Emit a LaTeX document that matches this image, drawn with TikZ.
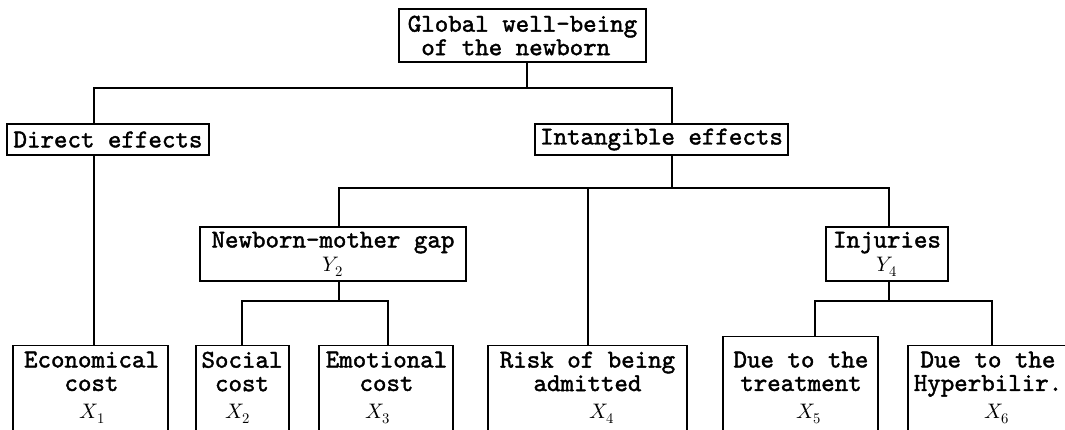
\documentclass[tikz,border=0pt]{standalone}
\usepackage{fontspec}
\usepackage{unicode-math}
\newfontfamily\cour{lmmono10-regular.otf}[FakeBold=1.6]
\newcommand\mathsz{\fontsize{21}{22}\selectfont}
\newcommand\boxfont{\cour\fontsize{25.7}{23.5}\selectfont}
\tikzset{
  box/.style={draw, line width=1.3pt, rectangle, inner sep=0pt, line join=miter, font=\boxfont},
  lbl/.style={inner sep=0pt, anchor=north, align=center, font=\boxfont},
  var/.style={inner sep=0pt, anchor=base, font=\mathsz},
  link/.style={line width=1.8pt, line join=miter}
}
\begin{document}
\begin{tikzpicture}[x=1pt,y=-1pt]
\useasboundingbox (0,0) rectangle (1065,429);
\clip (0,0) rectangle (1065,429);
% level 0 and 1
\node[box, minimum width=247pt, minimum height=53pt, align=left] (top) at (522.5,35.5) {Global well-being\\\hphantom{x}of the newborn};
\node[box, minimum width=202pt, minimum height=31pt] (direct) at (108,139.5) {Direct effects};
\node[box, minimum width=253pt, minimum height=31pt] (intang) at (661.5,139.5) {Intangible effects};
% level 2
\node[box, minimum width=266pt, minimum height=54pt, align=center] (gap) at (333,254) {Newborn-mother gap\\[0pt]{\mathsz$Y_2$}};
\node[box, minimum width=122pt, minimum height=54pt, align=center] (inj) at (887,254) {Injuries\\[0pt]{\mathsz$Y_4$}};
% bottom boxes (run past the lower edge)
\node[box, anchor=north, minimum width=155pt, minimum height=120pt] (econ) at (90.5,345) {};
\node[box, anchor=north, minimum width=93pt, minimum height=120pt] (social) at (242.5,345) {};
\node[box, anchor=north, minimum width=134pt, minimum height=120pt] (emo) at (386,345) {};
\node[box, anchor=north, minimum width=199pt, minimum height=120pt] (risk) at (587.5,345) {};
\node[box, anchor=north, minimum width=155pt, minimum height=120pt] (treat) at (800.5,336) {};
\node[box, anchor=north, minimum width=168pt, minimum height=120pt] (hyper) at (992,345) {};
% texts of the bottom boxes
\node[lbl] (econT) at (91.5,351.5) {Economical\\cost};
\node[var] (econX) at (92.5,418) {$X_1$};
\node[lbl] (socialT) at (242,351.5) {Social\\cost};
\node[var] (socialX) at (238,418) {$X_2$};
\node[lbl] (emoT) at (386.5,351.5) {Emotional\\cost};
\node[var] (emoX) at (378,418) {$X_3$};
\node[lbl] (riskT) at (587.5,351.5) {Risk of being\\admitted};
\node[var] (riskX) at (602,418) {$X_4$};
\node[lbl] (treatT) at (801,351.5) {Due to the\\treatment};
\node[var] (treatX) at (809,418) {$X_5$};
\node[lbl] (hyperT) at (988,351.5) {Due to the\\Hyperbilir.};
\node[var] (hyperX) at (997,418) {$X_6$};
% junctions
\coordinate (j0) at (527,88);
\coordinate (cD) at (94,88);
\coordinate (cI) at (672,88);
\coordinate (k0) at (672,188);
\coordinate (kG) at (339,188);
\coordinate (kR) at (588,188);
\coordinate (kJ) at (889,188);
\coordinate (m0) at (339,301);
\coordinate (mS) at (242,301);
\coordinate (mE) at (388,301);
\coordinate (n0) at (889,301);
\coordinate (nT) at (815,301);
\coordinate (nH) at (992,301);
% connectors
\draw[link] (top.south -| j0) -- (j0);
\draw[link] (direct.north -| cD) -- (cD) -- (cI) -- (intang.north -| cI);
\draw[link] (direct.south -| cD) -- (econ.north -| cD);
\draw[link] (intang.south -| k0) -- (k0);
\draw[link] (gap.north -| kG) -- (kG) -- (kJ) -- (inj.north -| kJ);
\draw[link] (kR) -- (risk.north -| kR);
\draw[link] (gap.south -| m0) -- (m0);
\draw[link] (social.north -| mS) -- (mS) -- (mE) -- (emo.north -| mE);
\draw[link] (inj.south -| n0) -- (n0);
\draw[link] (treat.north -| nT) -- (nT) -- (nH) -- (hyper.north -| nH);
\end{tikzpicture}
\end{document}
